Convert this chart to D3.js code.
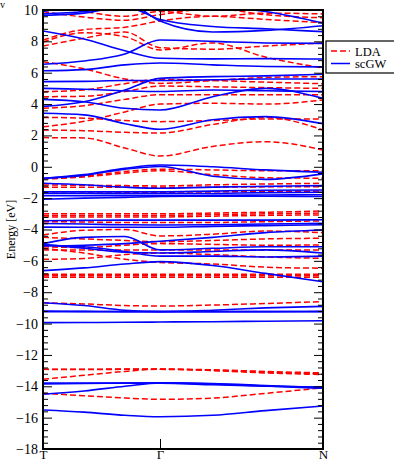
<!DOCTYPE html>
<html>
<head>
<meta charset="utf-8">
<script src="https://cdn.jsdelivr.net/npm/d3@7"></script>
<style>
  body { margin: 0; background: #fff; }
  svg text { font-family: "Liberation Serif", "Times New Roman", serif !important; }
</style>
</head>
<body>
<figure id="bands" style="margin:0"></figure>
<script>
// k-path sample points (T -> Gamma -> N)
const kpts = [0, 0.35, 0.7, 1.0, 1.45, 1.9, 2.393];
const kLabels = ["T", "Γ", "N"];
const kLabelPos = [0, 1.0, 2.393];

// LDA bands (eV) at the k points above
const ldaBands = [
  [10.3, 9.9, 9.6, 9.9, 9.6, 9.8, 9.75],
  [9.9, 9.55, 9.35, 9.7, 10.1, 9.7, 9.5],
  [8.08, 8.75, 8.9, 9.3, 9.6, 9.4, 9.2],
  [7.95, 8.55, 8.3, 7.45, 7.9, 7.0, 6.3],
  [7.7, 8.2, 8.6, 7.6, 7.5, 7.7, 7.9],
  [6.7, 6.25, 5.6, 5.32, 5.5, 5.7, 5.75],
  [4.79, 4.9, 5.3, 5.57, 5.5, 5.4, 5.3],
  [4.47, 4.5, 4.8, 5.15, 5.1, 5.05, 5.0],
  [3.73, 3.9, 4.3, 4.6, 4.6, 4.6, 4.6],
  [2.55, 2.9, 3.5, 4.0, 4.05, 4.0, 4.26],
  [3.15, 3.1, 2.95, 2.88, 2.95, 3.05, 3.04],
  [2.35, 2.3, 2.2, 2.15, 2.7, 3.15, 2.35],
  [1.86, 1.84, 1.2, 0.69, 1.3, 1.6, 1.07],
  [-0.75, -0.6, -0.3, -0.15, -0.2, -0.25, -0.25],
  [-0.78, -0.65, -0.4, -0.25, -0.5, -0.7, -0.73],
  [-1.16, -1.18, -1.2, -1.22, -1.15, -1.1, -1.05],
  [-1.3, -1.3, -1.3, -1.32, -1.3, -1.28, -1.27],
  [-1.6, -1.6, -1.62, -1.62, -1.6, -1.58, -1.55],
  [-3.0, -3.0, -3.0, -3.0, -2.95, -2.9, -2.82],
  [-3.1, -3.1, -3.1, -3.1, -3.05, -3.0, -2.95],
  [-3.2, -3.2, -3.2, -3.2, -3.15, -3.1, -3.07],
  [-3.5, -3.52, -3.55, -3.55, -3.55, -3.5, -3.45],
  [-4.35, -4.05, -4.0, -4.41, -4.3, -4.1, -4.2],
  [-4.5, -4.6, -4.7, -4.78, -4.7, -4.6, -4.56],
  [-5.1, -5.15, -5.0, -4.9, -4.95, -5.0, -4.99],
  [-5.3, -5.3, -5.3, -5.3, -5.3, -5.3, -5.3],
  [-5.9, -5.85, -5.6, -5.5, -5.6, -5.75, -5.84],
  [-5.2, -5.5, -5.9, -6.1, -6.2, -6.4, -6.47],
  [-6.85, -6.85, -6.85, -6.85, -6.85, -6.85, -6.85],
  [-6.95, -6.95, -6.95, -6.95, -6.95, -6.95, -6.95],
  [-7.05, -7.05, -7.05, -7.05, -7.05, -7.05, -7.05],
  [-8.67, -8.75, -8.85, -8.88, -8.82, -8.72, -8.6],
  [-12.91, -12.91, -12.9, -12.9, -12.95, -13.05, -13.15],
  [-12.92, -12.93, -12.92, -12.92, -13.0, -13.15, -13.25],
  [-13.55, -13.3, -13.05, -12.91, -12.98, -13.1, -13.2],
  [-14.45, -14.6, -14.75, -14.83, -14.75, -14.45, -14.1]
];

// scGW bands (eV)
const gwBands = [
  [9.75, 9.9, 10.3, 10.5, 10.3, 9.9, 9.17],
  [9.65, 9.8, 10.2, 9.4, 8.95, 8.8, 8.62],
  [9.9, 10.3, 10.5, 9.3, 8.6, 8.7, 9.0],
  [8.66, 8.15, 7.4, 6.92, 6.88, 6.9, 6.87],
  [6.54, 6.75, 7.2, 8.09, 8.0, 7.9, 7.87],
  [6.13, 6.2, 6.5, 6.62, 6.5, 6.4, 6.37],
  [5.43, 5.45, 5.5, 5.5, 5.55, 5.6, 5.6],
  [5.0, 4.95, 4.85, 4.8, 4.9, 4.85, 4.8],
  [3.85, 4.15, 4.9, 5.64, 5.75, 5.8, 5.9],
  [4.3, 4.15, 3.73, 3.62, 4.47, 5.0, 4.36],
  [3.41, 3.31, 2.75, 2.39, 3.0, 3.2, 2.75],
  [-0.73, -0.5, -0.1, 0.11, 0.0, -0.2, -0.35],
  [-0.75, -0.55, -0.15, 0.02, -0.6, -0.8, -0.45],
  [-1.05, -1.15, -1.3, -1.37, -1.3, -1.25, -1.2],
  [-1.6, -1.6, -1.6, -1.6, -1.55, -1.5, -1.48],
  [-1.7, -1.7, -1.72, -1.72, -1.7, -1.65, -1.62],
  [-1.85, -1.85, -1.85, -1.85, -1.82, -1.8, -1.78],
  [-2.07, -2.0, -1.95, -1.9, -1.88, -1.88, -1.9],
  [-3.44, -3.42, -3.4, -3.4, -3.4, -3.4, -3.38],
  [-3.62, -3.65, -3.7, -3.71, -3.7, -3.65, -3.6],
  [-3.85, -3.86, -3.86, -3.86, -3.8, -3.75, -3.7],
  [-4.9, -4.5, -4.45, -5.3, -5.2, -5.1, -5.1],
  [-5.0, -5.1, -5.4, -5.7, -5.7, -5.75, -5.7],
  [-5.05, -5.0, -4.9, -4.75, -4.5, -4.2, -4.03],
  [-4.95, -5.2, -5.45, -5.5, -5.4, -5.3, -5.5],
  [-6.62, -6.45, -6.2, -6.05, -6.3, -6.8, -7.33],
  [-8.67, -8.85, -9.15, -9.24, -9.24, -9.24, -9.24],
  [-9.24, -9.24, -9.24, -9.24, -9.15, -9.0, -8.9],
  [-9.2, -9.22, -9.24, -9.24, -9.24, -9.24, -9.22],
  [-9.94, -9.93, -9.92, -9.9, -9.88, -9.85, -9.82],
  [-13.85, -13.82, -13.8, -13.78, -13.85, -13.98, -14.13],
  [-13.8, -13.8, -13.8, -13.8, -13.9, -14.0, -14.05],
  [-14.51, -14.3, -14.0, -13.78, -13.82, -13.95, -14.1],
  [-15.51, -15.65, -15.85, -15.94, -15.85, -15.55, -15.26]
];

const seriesNames = ["LDA", "scGW"];

const svg = d3.select("figure#bands")
  .append("svg")
  .attr("width", 394)
  .attr("height", 462);

const margin = { left: 43, right: 323, top: 10, bottom: 449 };

const x = d3.scaleLinear().domain([0, 2.393]).range([margin.left, margin.right]);
const y = d3.scaleLinear().domain([-18, 10]).range([margin.bottom, margin.top]);

svg.append("clipPath").attr("id", "plotclip")
  .append("rect")
  .attr("x", margin.left).attr("y", margin.top)
  .attr("width", margin.right - margin.left).attr("height", margin.bottom - margin.top);

const line = d3.line()
  .x((d, i) => x(kpts[i]))
  .y(d => y(d))
  .curve(d3.curveMonotoneX);

const plot = svg.append("g").attr("clip-path", "url(#plotclip)");

// LDA dashed red
plot.selectAll("path.lda")
  .data(ldaBands)
  .enter()
  .append("path")
  .attr("class", "lda")
  .attr("d", line)
  .attr("fill", "none")
  .attr("stroke", "#ff0000")
  .attr("stroke-width", 1.5)
  .attr("stroke-dasharray", "6,3");

// scGW solid blue
plot.selectAll("path.gw")
  .data(gwBands)
  .enter()
  .append("path")
  .attr("class", "gw")
  .attr("d", line)
  .attr("fill", "none")
  .attr("stroke", "#0000ff")
  .attr("stroke-width", 1.6);

// y axes, ticks pointing inward
const major = d3.range(-18, 10.01, 2);
const minor = d3.range(-18, 10.01, 0.4).filter(v => Math.abs(v / 2 - Math.round(v / 2)) > 0.01);

const yAxis = svg.append("g")
  .attr("transform", "translate(" + margin.left + ",0)")
  .call(d3.axisLeft(y).tickValues(major).tickSizeInner(-9).tickSizeOuter(0).tickPadding(5));
yAxis.selectAll("text").attr("fill", "#000").style("font-size", "14px");
yAxis.select(".domain").remove();

svg.append("g")
  .attr("transform", "translate(" + margin.left + ",0)")
  .call(d3.axisLeft(y).tickValues(minor).tickSizeInner(-5).tickSizeOuter(0).tickFormat(""))
  .select(".domain").remove();

svg.append("g")
  .attr("transform", "translate(" + margin.right + ",0)")
  .call(d3.axisRight(y).tickValues(major).tickSizeInner(-9).tickSizeOuter(0).tickFormat(""))
  .select(".domain").remove();

svg.append("g")
  .attr("transform", "translate(" + margin.right + ",0)")
  .call(d3.axisRight(y).tickValues(minor).tickSizeInner(-5).tickSizeOuter(0).tickFormat(""))
  .select(".domain").remove();

// x axis: high-symmetry points
const xAxis = svg.append("g")
  .attr("transform", "translate(0," + margin.bottom + ")")
  .call(d3.axisBottom(x).tickValues(kLabelPos).tickFormat((d, i) => kLabels[i]).tickSizeInner(-10).tickSizeOuter(0).tickPadding(1));
xAxis.selectAll("text").attr("fill", "#000").style("font-size", "13px");
xAxis.select(".domain").remove();

svg.append("g")
  .attr("transform", "translate(0," + margin.top + ")")
  .call(d3.axisTop(x).tickValues(kLabelPos).tickSizeInner(-10).tickSizeOuter(0).tickFormat(""))
  .select(".domain").remove();

// frame
svg.append("rect")
  .attr("x", margin.left).attr("y", margin.top)
  .attr("width", margin.right - margin.left).attr("height", margin.bottom - margin.top)
  .attr("fill", "none")
  .attr("stroke", "#000")
  .attr("stroke-width", 2);

// y label
svg.append("text")
  .attr("transform", "translate(15," + ((margin.top + margin.bottom) / 2) + ") rotate(-90)")
  .attr("text-anchor", "middle")
  .style("font-size", "12px")
  .text("Energy [eV]");

svg.append("text")
  .attr("x", 0).attr("y", 8)
  .style("font-size", "10px")
  .text("v");

// legend
const legend = svg.append("g");
legend.append("rect")
  .attr("x", 326).attr("y", 41)
  .attr("width", 80).attr("height", 32)
  .attr("fill", "#fff")
  .attr("stroke", "#000")
  .attr("stroke-width", 1.2);

const legendStyles = [
  { color: "#ff0000", dash: "6,3" },
  { color: "#0000ff", dash: null }
];
seriesNames.forEach((name, i) => {
  const ly = 51 + i * 12.5;
  legend.append("line")
    .attr("x1", 331).attr("x2", 350)
    .attr("y1", ly).attr("y2", ly)
    .attr("stroke", legendStyles[i].color)
    .attr("stroke-width", 1.5)
    .attr("stroke-dasharray", legendStyles[i].dash);
  legend.append("text")
    .attr("x", 355).attr("y", ly + 4.5)
    .style("font-size", "12.5px")
    .text(name);
});
</script>
</body>
</html>
